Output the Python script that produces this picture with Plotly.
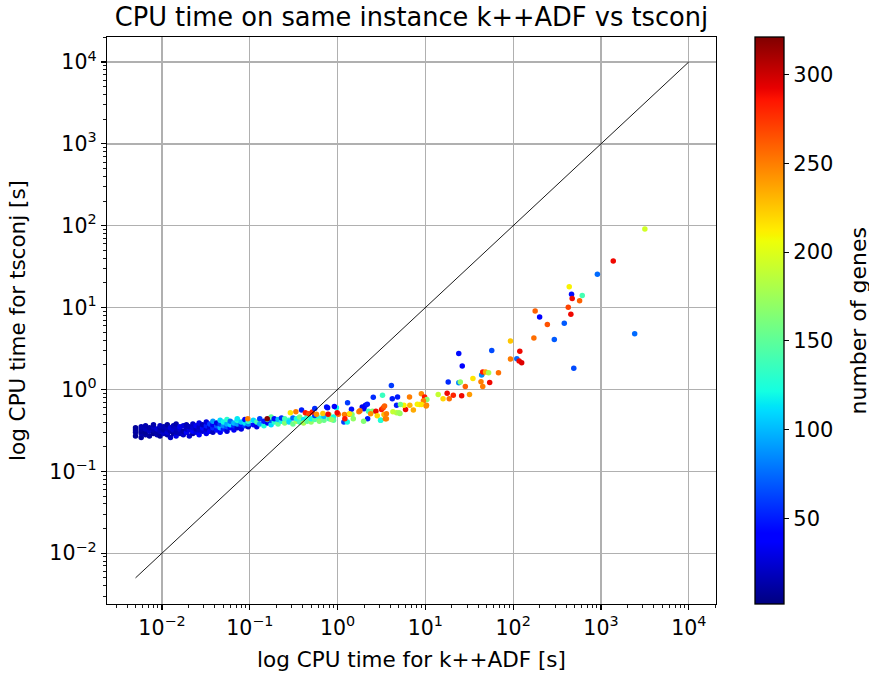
import plotly.graph_objects as go

# ---------------- data ----------------
# dense cluster of fast instances (x = k++ADF time [s], y = tsconj time [s])
cluster_x = [
    0.0050, 0.0050, 0.0050, 0.0050,
    0.0058, 0.0058, 0.0058, 0.0058, 0.0058,
    0.0065, 0.0065, 0.0065, 0.0065,
    0.0072, 0.0072, 0.0072,
    0.0080, 0.0080, 0.0080, 0.0080,
    0.0088, 0.0088, 0.0088,
    0.0095, 0.0095, 0.0095, 0.0095,
    0.0105, 0.0105, 0.0105,
    0.0115, 0.0115, 0.0115, 0.0115,
    0.0125, 0.0125, 0.0125,
    0.0135, 0.0135, 0.0135,
    0.0145, 0.0145, 0.0145, 0.0145,
    0.0160, 0.0160, 0.0160,
    0.0175, 0.0175, 0.0175,
    0.0190, 0.0190, 0.0190,
    0.0205, 0.0205, 0.0205,
    0.0225, 0.0225, 0.0225, 0.0225,
    0.0245, 0.0245, 0.0245,
    0.0265, 0.0265, 0.0265, 0.0265,
    0.029, 0.029, 0.029,
    0.032, 0.032, 0.032, 0.032,
    0.035, 0.035, 0.035,
    0.038, 0.038, 0.038, 0.038,
    0.042, 0.042, 0.042,
    0.046, 0.046, 0.046, 0.046,
    0.050, 0.050, 0.050,
    0.055, 0.055, 0.055, 0.055,
    0.060, 0.060, 0.060,
    0.066, 0.066, 0.066,
    0.072, 0.072, 0.072, 0.072,
    0.080, 0.080, 0.080,
    0.088, 0.088, 0.088,
    0.096, 0.096, 0.096,
]
cluster_y = [
    0.27, 0.30, 0.32, 0.34,
    0.26, 0.29, 0.31, 0.33, 0.35,
    0.28, 0.30, 0.33, 0.36,
    0.27, 0.31, 0.34,
    0.29, 0.32, 0.35, 0.37,
    0.28, 0.30, 0.33,
    0.27, 0.31, 0.34, 0.36,
    0.29, 0.32, 0.35,
    0.28, 0.30, 0.33, 0.37,
    0.26, 0.31, 0.34,
    0.29, 0.32, 0.36,
    0.27, 0.30, 0.34, 0.38,
    0.29, 0.33, 0.35,
    0.28, 0.31, 0.36,
    0.30, 0.33, 0.37,
    0.27, 0.32, 0.35,
    0.29, 0.31, 0.34, 0.38,
    0.30, 0.33, 0.36,
    0.28, 0.32, 0.35, 0.39,
    0.31, 0.34, 0.37,
    0.29, 0.33, 0.36, 0.40,
    0.31, 0.35, 0.38,
    0.30, 0.34, 0.37, 0.41,
    0.32, 0.36, 0.39,
    0.30, 0.34, 0.38, 0.42,
    0.33, 0.36, 0.40,
    0.31, 0.35, 0.38, 0.43,
    0.34, 0.37, 0.41,
    0.32, 0.36, 0.39,
    0.34, 0.38, 0.42, 0.44,
    0.33, 0.37, 0.40,
    0.36, 0.39, 0.43,
    0.35, 0.38, 0.41,
]
cluster_genes = [
    8, 10, 12, 9,
    10, 14, 9, 12, 16,
    12, 8, 18, 15,
    11, 20, 13,
    9, 15, 22, 14,
    16, 12, 25,
    10, 18, 14, 20,
    22, 12, 17,
    14, 26, 19, 11,
    20, 15, 28,
    12, 24, 18,
    30, 16, 21, 13,
    18, 25, 32,
    22, 14, 27,
    35, 20, 16,
    24, 30, 19,
    15, 38, 26, 22,
    28, 18, 33,
    40, 24, 20, 30,
    26, 45, 18,
    32, 22, 50, 28,
    40, 25, 60,
    20, 55, 35, 90,
    45, 70, 30,
    38, 100, 60, 110,
    50, 85, 120,
    28, 65, 95, 130,
    42, 110, 75,
    35, 55, 100,
    25, 90, 125, 115,
    30, 48, 105,
    60, 115, 40,
    20, 85, 130,
]

# band of instances between 0.1 s and 1 s
band_x = [0.11, 0.11, 0.12, 0.12, 0.13, 0.13, 0.145, 0.145, 0.16, 0.16,
          0.175, 0.175, 0.175, 0.19, 0.19, 0.21, 0.21, 0.23, 0.23, 0.25, 0.25,
          0.28, 0.28, 0.31, 0.31, 0.34, 0.34, 0.37, 0.37, 0.41, 0.41,
          0.45, 0.45, 0.50, 0.50, 0.55, 0.55, 0.62, 0.62, 0.70, 0.70,
          0.80, 0.80, 0.90, 0.90]
band_y = [0.37, 0.42, 0.35, 0.40, 0.38, 0.44, 0.36, 0.41, 0.39, 0.43,
          0.37, 0.42, 0.46, 0.40, 0.44, 0.38, 0.43, 0.41, 0.45, 0.39, 0.44,
          0.42, 0.40, 0.38, 0.45, 0.41, 0.44, 0.40, 0.46, 0.43, 0.39,
          0.41, 0.47, 0.40, 0.44, 0.43, 0.48, 0.45, 0.41, 0.42, 0.47,
          0.44, 0.49, 0.46, 0.42]
band_genes = [45, 110, 30, 140, 95, 60, 125, 50, 35, 140,
              110, 65, 150, 130, 45, 150, 100, 120, 55, 165, 140,
              130, 110, 155, 75, 175, 125, 140, 160, 115, 180,
              150, 135, 170, 120, 145, 60, 130, 165, 155, 100,
              140, 175, 120, 150]

# medium instances (about 0.1 s to 10 s)
mid_x = [0.095, 0.158, 0.29, 0.335, 0.389, 0.43, 0.47, 0.515, 0.55, 0.576,
         0.68, 0.75, 0.78, 0.97, 1.02, 1.2, 1.36, 1.75, 0.77, 0.92, 1.3,
         1.44, 1.91, 2.0, 2.08, 2.18, 1.8, 2.25, 2.5, 2.73, 3.17, 3.31, 3.43,
         2.38, 2.83, 3.38, 3.6, 3.6, 4.27, 4.7, 5.13, 3.09, 2.2, 1.51, 1.98,
         1.46, 1.18, 1.29, 3.1, 0.85, 0.99, 1.21, 1.37, 3.5, 5.0, 5.95, 7.3,
         8.6, 10.3, 4.1, 2.55, 3.25, 4.2, 4.82, 6.6, 9.0, 9.8, 10.4, 9.5,
         5.7, 6.65, 8.1, 9.05, 10.2, 4.7, 5.2]
mid_y = [0.44, 0.44, 0.52, 0.535, 0.56, 0.52, 0.505, 0.53, 0.586, 0.50,
         0.51, 0.61, 0.50, 0.60, 0.50, 0.495, 0.50, 0.535, 0.60, 0.62, 0.69,
         0.575, 0.61, 0.58, 0.64, 0.66, 0.55, 0.543, 0.543, 0.543, 0.57, 0.60, 0.63,
         0.505, 0.477, 0.495, 0.505, 0.44, 0.535, 0.52, 0.51, 0.42, 0.44, 0.44, 0.41,
         0.495, 0.40, 0.40, 0.42, 0.43, 0.52, 0.44, 0.505, 0.44, 0.52, 0.57, 0.56,
         0.655, 0.64, 1.12, 0.805, 0.85, 0.77, 0.81, 0.81, 0.886, 0.81, 0.755, 0.73,
         0.64, 0.64, 0.66, 0.655, 0.63, 0.64, 0.655]
mid_genes = [250, 320, 215, 250, 50, 285, 270, 285, 55, 245,
             225, 50, 290, 120, 255, 250, 265, 250, 45, 40, 60,
             45, 30, 35, 40, 50, 255, 140, 165, 290, 285, 270, 260,
             245, 220, 230, 250, 245, 190, 185, 170, 140, 50, 170, 165,
             165, 60, 120, 125, 170, 290, 285, 215, 250, 175, 290, 235,
             215, 250, 60, 55, 135, 50, 50, 250, 245, 285, 165, 250,
             210, 230, 210, 215, 245, 50, 160]

# slow instances (above 10 s)
tail_x = [14, 15.9, 17.7, 18.7, 20.8, 25.9, 31.8, 18.2, 24, 25, 28.5, 45,
          34.8, 43, 54, 44.5, 43.7, 45, 48.5, 52.5, 68, 24, 26.3, 57, 93,
          93, 110, 117, 125, 119, 172, 294, 490, 2420, 178, 200, 245, 382,
          424, 454, 435, 462, 470, 612, 571, 910, 1380, 3160]
tail_y = [0.87, 0.77, 0.90, 0.77, 0.85, 0.84, 0.87, 1.23, 1.21, 1.23, 1.09, 1.09,
          1.36, 1.24, 1.22, 1.55, 1.5, 1.63, 1.64, 1.6, 1.6, 2.75, 1.93, 3.0, 3.9,
          2.35, 2.37, 2.22, 2.12, 2.94, 4.24, 4.09, 1.82, 4.8, 9.1, 7.7, 6.2, 6.46,
          10.1, 8.3, 18, 14.6, 12.9, 14.1, 12.1, 25.5, 37, 91]
tail_genes = [190, 220, 290, 255, 280, 290, 240, 55, 85, 170, 260, 250,
              215, 250, 290, 215, 85, 285, 235, 180, 255, 45, 40, 65, 225,
              250, 75, 290, 295, 290, 255, 70, 65, 75, 260, 40, 265, 70,
              270, 290, 210, 45, 290, 140, 260, 75, 290, 195]

diag_x = [0.005, 10000]
diag_y = [0.005, 10000]

genes_min = 2
genes_max = 321
colorbar_ticks = [50, 100, 150, 200, 250, 300]

x_all = cluster_x + band_x + mid_x + tail_x
y_all = cluster_y + band_y + mid_y + tail_y
g_all = cluster_genes + band_genes + mid_genes + tail_genes

# matplotlib "jet" colour scale
jet = [
    [0.0, "rgb(0,0,128)"], [0.11, "rgb(0,0,255)"], [0.125, "rgb(0,0,255)"],
    [0.34, "rgb(0,219,255)"], [0.35, "rgb(0,230,247)"], [0.375, "rgb(20,255,226)"],
    [0.64, "rgb(238,255,8)"], [0.65, "rgb(247,245,0)"], [0.66, "rgb(255,236,0)"],
    [0.89, "rgb(255,19,0)"], [0.91, "rgb(232,0,0)"], [1.0, "rgb(128,0,0)"],
]

FONT = "DejaVu Sans"
PLOT_L, PLOT_R, PLOT_T, PLOT_B = 107, 716, 37, 604
PW = PLOT_R - PLOT_L

fig = go.Figure()
fig.add_trace(go.Scatter(
    x=x_all, y=y_all, mode="markers",
    marker=dict(size=5.5, color=g_all, colorscale=jet, cmin=genes_min, cmax=genes_max,
                line=dict(width=0),
                colorbar=dict(
                    thickness=29, thicknessmode="pixels",
                    len=PLOT_B - PLOT_T, lenmode="pixels",
                    x=(755 - PLOT_L) / PW, xanchor="left", xpad=0,
                    y=0.5, yanchor="middle", ypad=0,
                    outlinewidth=1.3, outlinecolor="black",
                    ticks="outside", ticklen=5, tickwidth=1, tickcolor="black",
                    tickvals=colorbar_ticks,
                    tickfont=dict(size=21, family=FONT, color="black"),
                )),
    showlegend=False, hoverinfo="skip",
))
fig.add_trace(go.Scatter(
    x=diag_x, y=diag_y, mode="lines",
    line=dict(color="black", width=0.9), showlegend=False, hoverinfo="skip",
))

major = [1e-2, 1e-1, 1e0, 1e1, 1e2, 1e3, 1e4]
major_txt = ["10<sup>−2</sup>", "10<sup>−1</sup>", "10<sup>0</sup>", "10<sup>1</sup>",
             "10<sup>2</sup>", "10<sup>3</sup>", "10<sup>4</sup>"]
minor_vals = [k * 10.0 ** d for d in range(-3, 5) for k in range(2, 10)]

axis_common = dict(
    type="log", tickvals=major, ticktext=major_txt,
    showgrid=True, gridcolor="#b0b0b0", gridwidth=1.3,
    ticks="outside", ticklen=5, tickwidth=1.2, tickcolor="black",
    showline=True, linecolor="black", linewidth=1.3, mirror=True,
    zeroline=False, automargin=False,
    tickfont=dict(size=20.5, family=FONT, color="black"),
    minor=dict(tickvals=minor_vals, ticks="outside", ticklen=3, tickwidth=0.9,
               tickcolor="black", showgrid=False),
)

fig.update_layout(
    width=869, height=677,
    margin=dict(l=PLOT_L, r=869 - PLOT_R, t=PLOT_T, b=677 - PLOT_B),
    plot_bgcolor="white", paper_bgcolor="white",
    font=dict(family=FONT, color="black"),
    title=dict(text="CPU time on same instance k++ADF vs tsconj",
               x=411.5 / 869, xanchor="center", y=1 - 17 / 677, yanchor="middle",
               font=dict(size=25.7, family=FONT, color="black")),
    xaxis=dict(axis_common, range=[-2.626, 4.31],
               title=dict(text="log CPU time for k++ADF [s]", standoff=13,
                          font=dict(size=21.5, family=FONT, color="black"))),
    yaxis=dict(axis_common, range=[-2.62, 4.305],
               title=dict(text="log CPU time for tsconj [s]", standoff=17,
                          font=dict(size=21.5, family=FONT, color="black"))),
    annotations=[dict(
        text="number of genes", textangle=-90, showarrow=False,
        xref="paper", yref="paper", x=(858 - PLOT_L) / PW, y=0.5,
        xanchor="center", yanchor="middle",
        font=dict(size=22, family=FONT, color="black"),
    )],
)

fig.write_html("out.html", config={"displayModeBar": False, "staticPlot": True},
               post_script="document.body.style.margin='0';")
